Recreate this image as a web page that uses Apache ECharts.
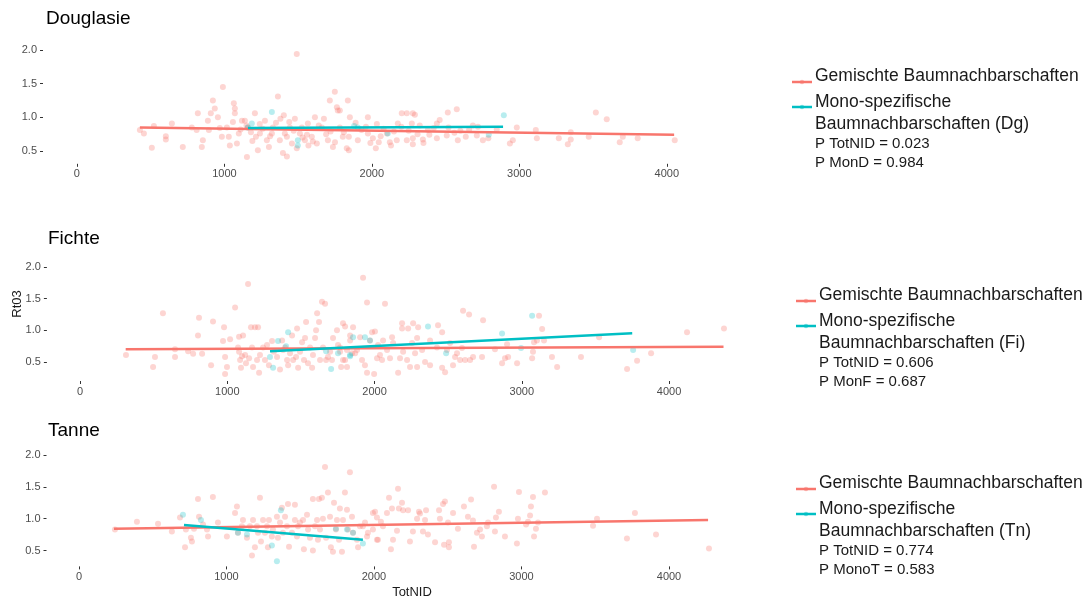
<!DOCTYPE html>
<html>
<head>
<meta charset="utf-8">
<script src="https://cdn.jsdelivr.net/npm/echarts@6/dist/echarts.min.js"></script>
<style>
  html, body { margin: 0; padding: 0; background: #fff; }
  #chart { width: 1085px; height: 599px; }
</style>
</head>
<body>
<div id="chart"></div>
<script>
var red = '#F8766D';
var teal = '#00BFC4';
var font = '"Liberation Sans", Arial, sans-serif';

var panelTitles = ['Douglasie', 'Fichte', 'Tanne'];
var xTicks = [0, 1000, 2000, 3000, 4000];
var yTicks = [0.5, 1.0, 1.5, 2.0];
var mixedName = 'Gemischte Baumnachbarschaften';
var monoNames = ['Baumnachbarschaften (Dg)', 'Baumnachbarschaften (Fi)', 'Baumnachbarschaften (Tn)'];
var pTotNID = ['P TotNID = 0.023', 'P TotNID = 0.606', 'P TotNID = 0.774'];
var pMono = ['P MonD = 0.984', 'P MonF = 0.687', 'P MonoT = 0.583'];

// Douglasie: [TotNID, Rt03]
var dgMixed = [
  [427,0.81],[454,0.76],[508,0.55],[522,0.87],[603,0.72],[603,0.67],[644,0.91],[718,0.56],[779,0.85],[812,0.81],
  [820,1.06],[847,0.56],[854,0.66],[888,0.95],[895,0.81],[908,1.06],[922,1.25],[935,1.13],[956,1.0],[969,0.84],
  [983,0.71],[990,1.45],[1017,0.85],[1030,0.71],[1037,0.58],[1058,0.93],[1064,1.21],[1071,1.13],[1071,1.06],[1085,0.61],
  [1098,0.76],[1119,0.95],[1139,0.95],[1153,0.41],[1159,0.85],[1180,0.78],[1207,1.06],[1214,0.71],[1227,0.51],[1241,0.76],
  [1275,0.95],[1288,0.66],[1302,0.56],[1322,0.76],[1329,0.85],[1363,1.31],[1376,0.66],[1397,0.47],[1403,1.03],[1410,0.76],
  [1424,0.71],[1424,0.42],[1444,0.85],[1458,0.61],[1478,0.98],[1491,1.94],[1491,0.54],[1512,0.76],[1525,0.85],[1546,0.66],
  [1566,0.91],[1593,0.71],[1614,1.0],[1627,0.61],[1661,0.85],[1675,0.98],[1702,0.66],[1715,1.25],[1736,0.56],[1749,1.38],
  [1763,1.15],[1769,1.10],[1783,0.85],[1837,1.25],[1844,0.51],[1851,1.0],[1783,1.10],[1830,0.54],[1844,0.71],[1803,0.71],
  [1905,0.66],[1973,1.0],[1973,0.76],[2007,0.69],[2034,0.90],[2027,0.54],[2047,0.63],[2102,0.76],[2122,0.63],[2169,0.66],
  [2176,0.91],[2203,1.06],[2237,1.06],[2237,0.66],[2271,0.91],[2278,1.06],[2292,1.04],[2278,0.69],[2278,0.60],[2325,0.88],
  [2346,0.67],[2380,0.81],[2441,0.91],[2441,0.69],[2508,0.73],[2515,1.07],[2576,1.12],[2583,0.66],[2637,0.71],[2685,0.88],
  [2712,0.73],[2753,0.66],[2847,0.82],[2936,0.61],[2956,0.66],[2983,0.85],[3112,0.81],[3119,0.69],[3268,0.69],[3329,0.60],
  [3349,0.78],[3349,0.67],[3471,0.71],[3519,1.07],[3593,0.97],[3681,0.63],[3702,0.71],[3803,0.69],[4054,0.66],
  [1150,0.88],[1260,0.83],[1350,0.92],[1470,0.80],[1560,0.74],[1640,0.88],[1720,0.79],[1890,0.92],[1960,0.86],[2080,0.83],
  [2150,0.79],[2390,0.74],[2520,0.85],[2600,0.80],[2790,0.69],[1380,0.98],[1600,0.64],[1990,0.62],[2200,0.86],[2460,0.96],
  [1110,0.82],[1240,0.90],[1310,0.72],[1440,0.93],[1530,0.70],[1690,0.75],[1810,0.78],[1930,0.81],[2060,0.72],[2250,0.80],
  [2310,0.75],[2420,0.84],[2560,0.77],[2660,0.82],[2720,0.86],[1190,0.65],[1570,0.58],[1750,0.63],[2130,0.58],[2350,0.62]
];
var dgMono = [
  [1159,0.85],[1186,0.91],[1322,1.08],[1498,0.66],[1498,0.58],[1905,0.85],[2108,0.76],[2793,0.74],[2895,1.03],[1880,0.87]
];
var dgMixedFit = [[427,0.85],[4050,0.74]];
var dgMonoFit = [[1160,0.84],[2890,0.86]];

// Fichte
var fiMixed = [
  [312,0.61],[496,0.42],[509,0.58],[563,1.27],[645,0.70],[645,0.58],[734,0.67],[768,0.63],[808,1.20],[801,0.92],
  [829,0.63],[890,0.45],[903,1.14],[971,0.83],[978,1.05],[985,0.58],[998,0.42],[985,0.31],[1019,0.86],[1053,1.36],
  [1073,0.73],[1080,0.90],[1080,0.66],[1087,0.53],[1093,0.41],[1100,0.59],[1107,0.92],[1121,0.61],[1127,0.48],[1141,1.73],
  [1148,0.56],[1161,1.05],[1168,0.73],[1175,0.42],[1188,1.05],[1202,0.53],[1209,1.05],[1216,0.33],[1222,0.61],[1243,0.73],
  [1256,0.53],[1270,0.77],[1283,0.45],[1304,0.83],[1317,0.66],[1338,0.58],[1358,0.38],[1372,0.84],[1379,0.69],[1392,0.73],
  [1406,0.53],[1413,0.45],[1426,0.64],[1440,0.92],[1447,0.53],[1467,0.58],[1474,1.03],[1481,0.41],[1494,0.66],[1508,0.81],
  [1521,0.53],[1528,0.88],[1535,1.13],[1548,0.48],[1562,0.73],[1576,0.41],[1582,0.61],[1596,0.88],[1603,1.0],[1610,1.27],
  [1623,1.13],[1630,0.53],[1643,1.45],[1650,0.73],[1664,1.42],[1671,0.53],[1684,0.58],[1698,0.66],[1711,0.53],[1718,0.88],
  [1745,1.0],[1752,0.77],[1766,0.66],[1773,0.42],[1786,1.11],[1800,0.53],[1813,0.69],[1834,0.92],[1854,1.05],[1868,0.64],
  [1766,0.73],[1800,1.06],[1786,0.53],[1813,0.42],[1834,0.84],[1847,0.64],[1881,0.69],[1902,0.89],[1915,0.53],[1922,1.83],
  [1935,0.45],[1949,1.44],[1949,0.33],[1969,0.84],[1983,0.97],[1997,0.31],[2003,0.98],[2017,0.56],[2024,0.77],[2037,0.61],
  [2051,0.53],[2058,0.84],[2071,1.42],[2085,0.69],[2105,0.56],[2119,0.89],[2126,0.80],[2160,0.33],[2173,0.56],[2187,1.03],
  [2187,1.11],[2194,0.66],[2221,0.53],[2228,1.03],[2241,0.42],[2255,0.80],[2262,1.11],[2275,0.64],[2289,0.42],[2289,0.88],
  [2296,1.05],[2323,0.69],[2343,0.50],[2377,0.84],[2377,0.45],[2424,0.73],[2431,1.08],[2459,0.97],[2459,0.41],[2479,0.34],
  [2492,0.69],[2513,0.80],[2533,0.45],[2547,0.58],[2560,0.64],[2581,0.53],[2594,0.72],[2601,1.31],[2615,0.53],[2642,1.25],
  [2649,0.53],[2669,0.58],[2730,0.58],[2737,1.16],[2818,0.70],[2866,0.48],[2886,0.56],[2900,0.78],[2907,0.58],[2968,0.48],
  [3070,0.56],[3076,0.66],[3083,0.81],[3103,0.84],[3117,1.23],[3138,1.02],[3151,0.84],[3205,0.58],[3240,0.42],[3402,0.58],
  [3525,0.89],[3715,0.39],[3783,0.52],[3878,0.64],[4122,0.97],[4373,1.03]
];
var fiMono = [
  [1290,0.58],[1311,0.41],[1345,0.83],[1399,0.75],[1413,0.97],[1671,0.67],[1705,0.39],[1752,0.64],[1834,0.61],[1854,0.89],
  [1834,0.59],[1935,0.89],[1969,0.84],[2363,1.06],[2486,0.64],[2866,0.95],[2995,0.72],[3070,1.23],[3756,0.69]
];
var fiMixedFit = [[310,0.70],[4370,0.74]];
var fiMonoFit = [[1290,0.67],[3750,0.955]];

// Tanne
var tnMixed = [
  [244,0.83],[393,0.95],[536,0.92],[630,0.80],[685,1.02],[719,0.55],[725,0.83],[759,0.70],[766,0.64],[780,0.84],
  [807,1.31],[814,1.03],[841,0.91],[868,0.83],[875,0.72],[908,1.34],[942,0.94],[1003,0.72],[1058,1.09],[1071,1.19],
  [1078,0.78],[1105,0.88],[1112,0.98],[1139,0.70],[1159,0.88],[1173,0.42],[1180,0.98],[1193,0.55],[1207,0.88],[1214,0.78],
  [1227,1.33],[1234,0.64],[1248,0.98],[1261,0.78],[1275,0.88],[1281,0.55],[1288,0.98],[1308,0.72],[1315,0.83],[1342,1.03],
  [1349,0.70],[1363,0.94],[1376,1.17],[1383,0.78],[1397,1.03],[1410,0.88],[1417,1.23],[1424,0.56],[1444,0.78],[1464,0.98],
  [1464,1.22],[1478,0.72],[1485,0.88],[1498,0.94],[1519,0.98],[1525,0.52],[1546,1.06],[1553,0.83],[1566,0.70],[1586,0.50],
  [1586,1.31],[1600,0.88],[1614,0.98],[1620,0.67],[1627,1.31],[1634,0.83],[1647,1.33],[1654,1.0],[1668,1.81],[1675,0.70],
  [1688,1.41],[1702,1.03],[1708,0.55],[1722,0.48],[1729,1.25],[1742,0.83],[1749,0.98],[1763,0.67],[1769,1.16],[1783,0.48],
  [1790,0.98],[1803,1.41],[1817,1.14],[1824,0.83],[1837,1.73],[1851,1.03],[1858,0.78],[1885,0.67],[1892,0.55],[1905,0.88],
  [1939,0.94],[1959,0.78],[1993,1.09],[2020,0.67],[1925,0.88],[1953,0.72],[1993,0.83],[2007,1.11],[2020,1.02],[2027,0.67],
  [2047,0.95],[2061,0.88],[2088,1.09],[2102,1.33],[2115,0.52],[2122,1.16],[2129,0.67],[2156,0.81],[2163,1.47],[2169,1.16],
  [2190,1.25],[2197,1.13],[2231,1.13],[2244,0.64],[2264,0.80],[2292,1.0],[2305,1.11],[2312,1.08],[2332,0.80],[2346,0.98],
  [2353,1.13],[2366,0.75],[2414,0.63],[2441,1.13],[2447,1.0],[2468,1.23],[2475,0.59],[2481,1.27],[2502,0.94],[2508,0.63],
  [2508,0.55],[2536,1.09],[2569,0.84],[2610,1.19],[2637,1.03],[2658,1.30],[2671,0.97],[2678,0.56],[2698,0.78],[2719,0.83],
  [2732,0.72],[2766,0.88],[2773,0.94],[2814,1.50],[2820,0.80],[2827,1.02],[2847,1.11],[2888,0.72],[2969,0.61],[2976,1.0],
  [2983,1.42],[3031,0.91],[3044,0.95],[3058,1.05],[3064,1.19],[3078,1.34],[3085,0.72],[3098,0.84],[3112,0.94],[3159,1.41],
  [3485,0.89],[3512,1.0],[3715,0.69],[3769,1.09],[3912,0.75],[4271,0.53]
];
var tnMono = [
  [705,1.06],[827,0.98],[1078,0.78],[1139,0.75],[1308,0.58],[1369,1.13],[1342,0.33],[1742,0.84],[1817,0.83],[1858,0.78],[1925,0.61]
];
var tnMixedFit = [[237,0.84],[4265,0.98]];
var tnMonoFit = [[712,0.90],[1925,0.67]];

var mixedSets = [dgMixed, fiMixed, tnMixed];
var monoSets = [dgMono, fiMono, tnMono];
var mixedFits = [dgMixedFit, fiMixedFit, tnMixedFit];
var monoFits = [dgMonoFit, fiMonoFit, tnMonoFit];

// layout of the three panels (pixels) and their value ranges
var grids = [
  { left: 43, top: 46.6, width: 668, height: 117.2 },
  { left: 46.9, top: 263.8, width: 710.5, height: 117.2 },
  { left: 46.5, top: 451.8, width: 711, height: 114.6 }
];
var xRanges = [[-230, 4300], [-225, 4600], [-220, 4600]];
var yRanges = [[0.31, 2.05], [0.2, 2.05], [0.25, 2.05]];
var titleY = [20, 240, 432];
var legendTop = [76, 295, 483];

var xAxes = [], yAxes = [], series = [], graphics = [];

for (var i = 0; i < 3; i++) {
  xAxes.push({
    type: 'value', gridIndex: i, min: xRanges[i][0], max: xRanges[i][1],
    axisLine: { show: false, onZero: false }, splitLine: { show: false },
    axisTick: { show: true, length: 3, customValues: xTicks, lineStyle: { color: '#333' } },
    axisLabel: { customValues: xTicks, margin: 5, color: '#4d4d4d', fontSize: 11, fontFamily: font,
      formatter: function (v) { return String(v); } }
  });
  yAxes.push({
    type: 'value', gridIndex: i, min: yRanges[i][0], max: yRanges[i][1],
    axisLine: { show: false, onZero: false }, splitLine: { show: false },
    axisTick: { show: true, length: 3, customValues: yTicks, lineStyle: { color: '#333' } },
    axisLabel: { customValues: yTicks, margin: 6, color: '#4d4d4d', fontSize: 11, fontFamily: font,
      formatter: function (v) { return v.toFixed(1); } }
  });
  series.push({
    type: 'scatter', xAxisIndex: i, yAxisIndex: i, data: mixedSets[i], symbolSize: 6,
    itemStyle: { color: 'rgba(248,118,109,0.38)' }, silent: true
  });
  series.push({
    type: 'scatter', xAxisIndex: i, yAxisIndex: i, data: monoSets[i], symbolSize: 6,
    itemStyle: { color: 'rgba(0,191,196,0.35)' }, silent: true
  });
  series.push({
    type: 'line', xAxisIndex: i, yAxisIndex: i, data: mixedFits[i], showSymbol: false,
    lineStyle: { color: red, width: 2.5 }, silent: true
  });
  series.push({
    type: 'line', xAxisIndex: i, yAxisIndex: i, data: monoFits[i], showSymbol: false,
    lineStyle: { color: teal, width: 2.5 }, silent: true
  });

  // panel title
  graphics.push({ type: 'text', left: i === 0 ? 46 : 48, top: titleY[i] - 11,
    style: { text: panelTitles[i], font: '19px ' + font, fill: '#000' } });

  // legend block
  var lx = i === 0 ? 815 : 819;
  var sx = lx - 23;
  var t = legendTop[i];
  graphics.push({ type: 'line', shape: { x1: sx, y1: t + 6, x2: sx + 20, y2: t + 6 }, style: { stroke: red, lineWidth: 2.5 } });
  graphics.push({ type: 'circle', shape: { cx: sx + 10, cy: t + 6, r: 2.2 }, style: { fill: 'rgba(248,118,109,0.5)' } });
  graphics.push({ type: 'line', shape: { x1: sx, y1: t + 31, x2: sx + 20, y2: t + 31 }, style: { stroke: teal, lineWidth: 2.5 } });
  graphics.push({ type: 'circle', shape: { cx: sx + 10, cy: t + 31, r: 2.2 }, style: { fill: 'rgba(0,191,196,0.5)' } });
  var lines = [
    [mixedName, 0, 17.5], ['Mono-spezifische', 26, 17.5], [monoNames[i], 48, 17.5],
    [pTotNID[i], 68, 15], [pMono[i], 87, 15]
  ];
  for (var k = 0; k < lines.length; k++) {
    graphics.push({ type: 'text', left: lx, top: t + lines[k][1] - lines[k][2] * 0.5,
      style: { text: lines[k][0], font: lines[k][2] + 'px ' + font, fill: '#1a1a1a' } });
  }
}

// axis titles shared by the figure
graphics.push({ type: 'text', x: 17, y: 304, rotation: Math.PI / 2,
  style: { text: 'Rt03', font: '13px ' + font, fill: '#1a1a1a', align: 'center', verticalAlign: 'middle' } });
graphics.push({ type: 'text', x: 412, y: 592,
  style: { text: 'TotNID', font: '13px ' + font, fill: '#1a1a1a', align: 'center', verticalAlign: 'middle' } });

var myChart = echarts.init(document.getElementById('chart'));
myChart.setOption({
  animation: false,
  backgroundColor: '#fff',
  grid: grids,
  xAxis: xAxes,
  yAxis: yAxes,
  series: series,
  graphic: graphics
});
</script>
</body>
</html>
